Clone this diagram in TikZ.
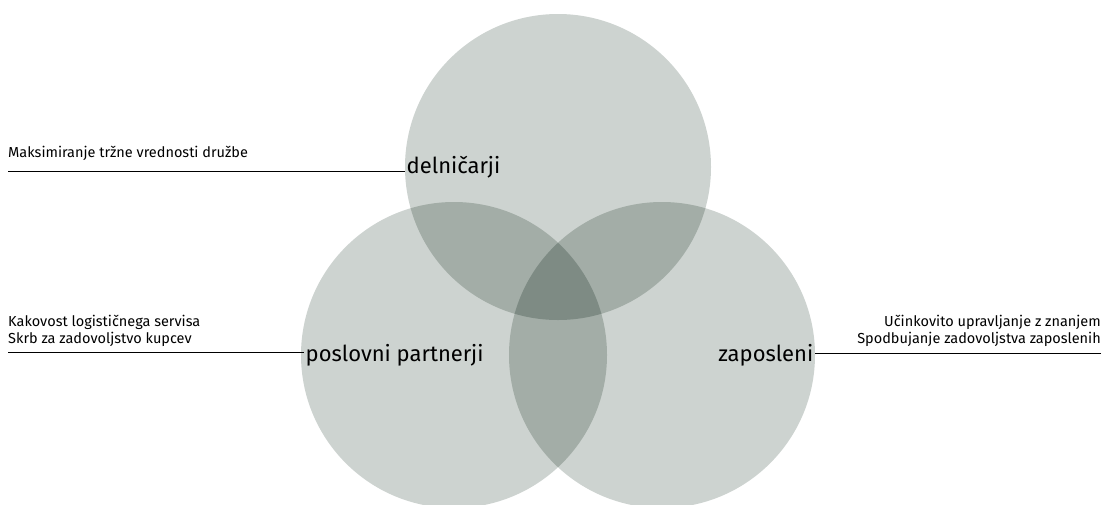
\documentclass[tikz,border=0pt]{standalone}
\usepackage{fontspec}
\setmainfont{Fira Sans}
\definecolor{one}{HTML}{CDD3D0}
\definecolor{two}{HTML}{A3ADA7}
\definecolor{three}{HTML}{7E8B84}
\begin{document}
\begin{tikzpicture}[x=1pt,y=-1pt,
  small/.style={font=\fontsize{14.5}{17}\selectfont, inner sep=0pt},
  big/.style={font=\fontsize{22}{26}\selectfont, inner sep=1.5pt},
  rule/.style={draw=black, line width=0.7pt}]
\useasboundingbox (0,0) rectangle (1106,504);
\coordinate (T) at (558,167);
\coordinate (L) at (454,355);
\coordinate (R) at (662,355);
\def\rr{153pt}
\fill[one] (T) circle (\rr);
\fill[one] (L) circle (\rr);
\fill[one] (R) circle (\rr);
\begin{scope}
  \clip (T) circle (\rr);
  \fill[two] (L) circle (\rr);
  \fill[two] (R) circle (\rr);
\end{scope}
\begin{scope}
  \clip (L) circle (\rr);
  \fill[two] (R) circle (\rr);
\end{scope}
\begin{scope}
  \clip (T) circle (\rr);
  \clip (L) circle (\rr);
  \fill[three] (R) circle (\rr);
\end{scope}
% labels
\node[big, anchor=west] (del) at (405,167) {delničarji};
\node[big, anchor=west] (pos) at (304,355) {poslovni partnerji};
\node[big, anchor=east] (zap) at (815,355) {zaposleni};
% texts
\node[small, anchor=base west] (t1) at (8,157) {Maksimiranje tržne vrednosti družbe};
\node[small, anchor=base west] (t2) at (8,326) {Kakovost logističnega servisa};
\node[small, anchor=base west] (t3) at (8,343) {Skrb za zadovoljstvo kupcev};
\node[small, anchor=base east] (t4) at (1101,326) {Učinkovito upravljanje z znanjem};
\node[small, anchor=base east] (t5) at (1101,343) {Spodbujanje zadovoljstva zaposlenih};
\coordinate (a1) at (8,171);
\coordinate (a2) at (8,352);
\coordinate (a3) at (1101,353);
\draw[rule] (a1) -- (a1 -| del.west);
\draw[rule] (a2) -- (a2 -| pos.west);
\draw[rule] (a3) -- (a3 -| zap.east);
\end{tikzpicture}
\end{document}
